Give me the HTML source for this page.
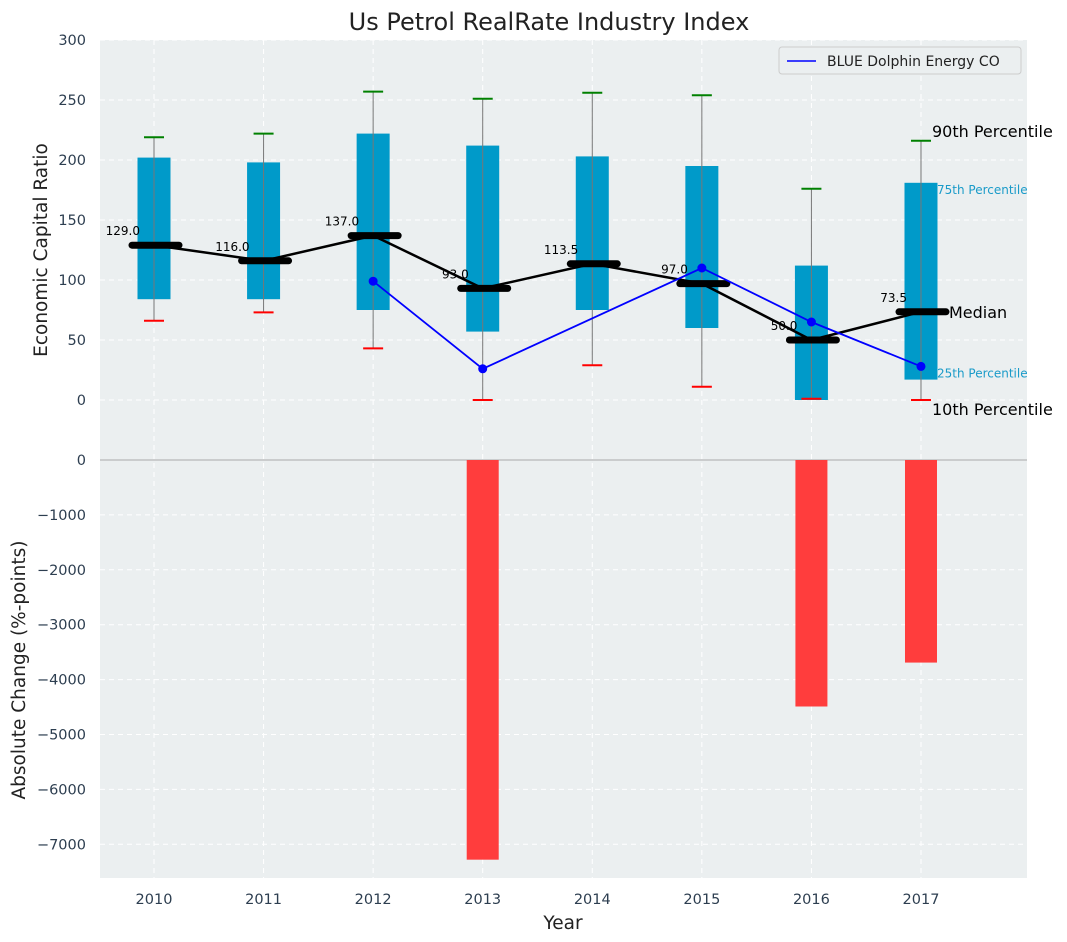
<!DOCTYPE html>
<html><head><meta charset="utf-8">
<style>
body{margin:0;background:#fff;}
svg{display:block;font-family:"DejaVu Sans","Liberation Sans",sans-serif;}
</style></head>
<body>
<svg id="chart" width="1067" height="942" viewBox="0 0 1067 942" xmlns="http://www.w3.org/2000/svg">
<rect x="100" y="40" width="927" height="420" fill="#ebeff0"/>
<rect x="100" y="460" width="927" height="418" fill="#ebeff0"/>
<text x="549" y="30" text-anchor="middle" font-size="24" fill="#222">Us Petrol RealRate Industry Index</text>
<text transform="translate(47,250) rotate(-90)" text-anchor="middle" font-size="18.5" fill="#222">Economic Capital Ratio</text>
<text transform="translate(25,670) rotate(-90)" text-anchor="middle" font-size="18.5" fill="#222">Absolute Change (%-points)</text>
<text x="563" y="929" text-anchor="middle" font-size="18.5" fill="#222">Year</text>
<g id="grid"></g>
<g id="marks"></g>
<g>
<rect x="779" y="47" width="242" height="27" rx="3" fill="#ebeff0" stroke="#ccc"/>
<line x1="787" y1="61" x2="816" y2="61" stroke="#0000ff" stroke-width="1.5"/>
<text x="827" y="66" font-size="14" fill="#222">BLUE Dolphin Energy CO</text>
</g>
</svg>
<script>
const years=[2010,2011,2012,2013,2014,2015,2016,2017];
const p10=[66,73,43,0,29,11,1,0];
const q1=[84,84,75,57,75,60,0,17];
const med=[129,116,137,93,113.5,97,50,73.5];
const q3=[202,198,222,212,203,195,112,181];
const p90=[219,222,257,251,256,254,176,216];
const blueYears=[2012,2013,2015,2016,2017];
const blueVals=[99,26,110,65,28];
const changeYears=[2013,2016,2017];
const changeVals=[-7280,-4490,-3690];
const topTicks=[0,50,100,150,200,250,300];
const botTicks=[0,-1000,-2000,-3000,-4000,-5000,-6000,-7000];

const NS="http://www.w3.org/2000/svg";
const X=y=>154+(y-2010)*109.57;
const YT=v=>400-v*1.2;
function YBf(v){return 460-v*0.0549;}
const grid=document.getElementById('grid'), marks=document.getElementById('marks');
function mk(tag,attrs,parent){const e=document.createElementNS(NS,tag);for(const k in attrs)e.setAttribute(k,attrs[k]);(parent||marks).appendChild(e);return e;}

topTicks.forEach(t=>{
  const l=mk('line',{x1:100,x2:1027,y1:YT(t),y2:YT(t),stroke:'#fff','stroke-dasharray':'5,4','stroke-width':1},grid);
  
  
  const tx=mk('text',{x:86,y:YT(t)+5,'text-anchor':'end','font-size':14.5,fill:'#2d3e50'},grid);
  tx.textContent=t;
  
  
});
botTicks.forEach(t=>{
  if(t!==0){const l=mk('line',{x1:100,x2:1027,y1:YBf(t),y2:YBf(t),stroke:'#fff','stroke-dasharray':'5,4','stroke-width':1},grid);
  
  }
  const tx=mk('text',{x:86,y:YBf(t)+5,'text-anchor':'end','font-size':14.5,fill:'#2d3e50'},grid);
  tx.textContent=(t<0?'\u2212'+(-t):t);
  
  
});
years.forEach(y=>{
  const l=mk('line',{x1:X(y),x2:X(y),y1:40,y2:878,stroke:'#fff','stroke-dasharray':'5,4','stroke-width':1},grid);
  
  
  const tx=mk('text',{x:X(y),y:904,'text-anchor':'middle','font-size':14.5,fill:'#2d3e50'},grid);
  tx.textContent=y;
  
  
});
const sep=mk('line',{x1:100,x2:1027,y1:460,y2:460,stroke:'#aaa','stroke-width':1},grid);



years.forEach((y,i)=>{
  const x=X(y);
  const b=mk('rect',{x:x-16.5,y:YT(q3[i]),width:33,height:YT(q1[i])-YT(q3[i]),fill:'#009ac9'});
  
  
  const w=mk('line',{x1:x,x2:x,y1:YT(p10[i]),y2:YT(p90[i]),stroke:'#777','stroke-width':1});
  
  
  const c1=mk('line',{x1:x-10,x2:x+10,y1:YT(p90[i]),y2:YT(p90[i]),stroke:'#008000','stroke-width':2});
  
  
  const c2=mk('line',{x1:x-10,x2:x+10,y1:YT(p10[i]),y2:YT(p10[i]),stroke:'#ff0000','stroke-width':2});
  
  
});
const mp=mk('polyline',{points:years.map((y,i)=>X(y)+','+YT(med[i])).join(' '),fill:'none',stroke:'#000','stroke-width':2.5});


years.forEach((y,i)=>{
  const x=X(y);
  const m=mk('line',{x1:x-22,x2:x+25,y1:YT(med[i]),y2:YT(med[i]),stroke:'#000','stroke-width':7,'stroke-linecap':'round'});
  
  
  const t=mk('text',{x:x-14,y:YT(med[i])-10,'text-anchor':'end','font-size':12,fill:'#000'});
  t.textContent=med[i].toFixed(1);
  
  
});
const bl=mk('polyline',{points:blueYears.map((y,i)=>X(y)+','+YT(blueVals[i])).join(' '),fill:'none',stroke:'#0000ff','stroke-width':1.8});


blueYears.forEach((y,i)=>{
  const c=mk('circle',{cx:X(y),cy:YT(blueVals[i]),r:4.5,fill:'#0000ff'});
  
  
});
changeYears.forEach((y,i)=>{
  const r=mk('rect',{x:X(y)-16,y:460,width:32,height:YBf(changeVals[i])-460,fill:'#ff3d3d'});
  
  
});
const li=years.length-1, lx=X(years[li]);
const ann=[['90th Percentile',YT(p90[li])-4,16,'#000',11],['75th Percentile',YT(q3[li])+11,12,'#1a9bc9',16],['25th Percentile',YT(q1[li])-2,12,'#1a9bc9',16],['10th Percentile',YT(p10[li])+15,16,'#000',11]];
ann.forEach(a=>{
  const t=mk('text',{x:lx+a[4],y:a[1],'font-size':a[2],fill:a[3]});
  t.textContent=a[0];
  
  
});
const mt=mk('text',{x:lx+28,y:YT(med[li])+6,'font-size':16,fill:'#000'});
mt.textContent='Median';


</script>
</body></html>
